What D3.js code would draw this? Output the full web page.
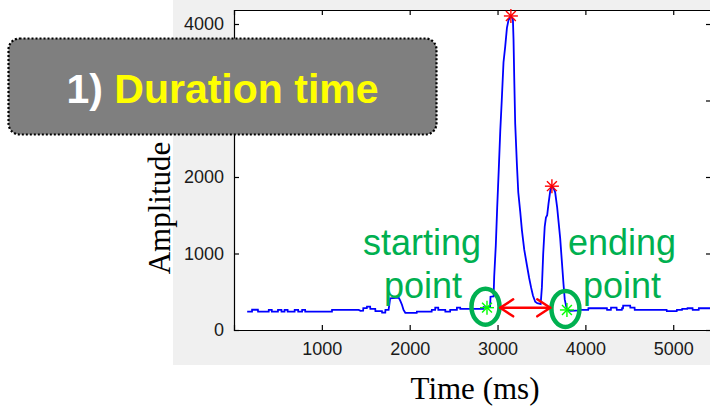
<!DOCTYPE html>
<html>
<head>
<meta charset="utf-8">
<script src="https://cdn.jsdelivr.net/npm/d3@7"></script>
<style>
html,body{margin:0;padding:0;background:#fff;}
svg{display:block;}
</style>
</head>
<body>
<svg id="chart" width="710" height="411"></svg>
<script>
// ---- data ----
const timeMs = [150,205,206,272,274,395,396,430,431,500,501,540,541,575,576,610,611,690,691,730,731,775,776,810,811,1115,1116,1420,1440,1470,1472,1512,1514,1550,1552,1608,1610,1684,1686,1722,1724,1760,1778,1875,1890,1912,1930,1950,2080,2082,2250,2252,2290,2291,2325,2326,2405,2406,2460,2461,2537,2538,2575,2576,2840,2842,2880,2915,2920,2955,2962,2980,2996,3014,3031,3048,3068,3087,3107,3125,3152,3175,3182,3190,3201,3221,3236,3258,3278,3304,3334,3360,3383,3403,3429,3452,3474,3491,3505,3520,3537,3551,3565,3580,3600,3619,3639,3656,3679,3696,3713,3732,3751,3765,3790,3830,3940,3942,4032,4035,4245,4247,4290,4292,4355,4358,4415,4418,4428,4430,4510,4512,4560,4562,4925,4927,5040,5042,5100,5102,5160,5162,5220,5222,5290,5292,5430];
const amplitude = [240,240,265,265,240,240,262,262,240,240,262,262,240,240,262,262,240,240,262,262,240,240,262,262,240,240,262,262,250,252,285,285,305,305,275,275,248,248,226,226,262,262,415,422,390,330,262,225,225,240,240,262,262,292,292,262,262,240,240,262,262,292,292,275,275,300,290,300,435,440,700,1100,1600,2100,2600,3000,3500,3700,3950,4050,4105,4060,3800,3300,2700,2150,1800,1550,1300,1050,850,680,550,450,370,350,345,340,560,1000,1350,1470,1500,1650,1820,1880,1850,1800,1600,1400,1200,900,600,400,265,250,255,262,262,284,284,262,262,292,292,262,262,284,284,318,318,292,292,262,262,248,248,262,262,275,275,284,284,262,262,284,284];
const peakTimes = [3152, 3619];
const peakAmps = [4105, 1880];
const boundTimes = [2880, 3790];
const boundAmps = [292, 262];
const arrowTimes = [3030, 3600];
const arrowAmp = 290;
const xTicks = [1000, 2000, 3000, 4000, 5000];
const yTicks = [0, 1000, 2000, 3000, 4000];
const yTickLabels = ["0", "1000", "2000", "", "4000"]; // 3000 is hidden under the title box
const xDomain = [0, 5430];
const yDomain = [0, 4183];

// ---- layout ----
const svg = d3.select("#chart");
const L = 234, R = 711, T = 10, B = 330;
const x = d3.scaleLinear().domain(xDomain).range([L, R]);
const y = d3.scaleLinear().domain(yDomain).range([B, T]);

// figure background
svg.append("rect").attr("x", 173).attr("y", 0).attr("width", 537).attr("height", 365).attr("fill", "#f0f0f0");
// axes background
svg.append("rect").attr("x", L).attr("y", T).attr("width", R - L).attr("height", B - T).attr("fill", "#fff");

// data line
const line = d3.line().x((d, i) => x(timeMs[i])).y((d, i) => y(amplitude[i]));
svg.append("path").datum(amplitude).attr("d", line)
  .attr("fill", "none").attr("stroke", "#0000ff").attr("stroke-width", 1.8).attr("stroke-linejoin", "miter");

// axes with inward ticks
const tickFont = "Liberation Sans, Arial, sans-serif";
const axB = svg.append("g").attr("transform", `translate(0,${B})`)
  .call(d3.axisBottom(x).tickValues(xTicks).tickSize(-5).tickPadding(12).tickFormat(d3.format("d")));
const axT = svg.append("g").attr("transform", `translate(0,${T})`)
  .call(d3.axisTop(x).tickValues(xTicks).tickSize(-5).tickFormat(""));
const axL = svg.append("g").attr("transform", `translate(${L},0)`)
  .call(d3.axisLeft(y).tickValues(yTicks).tickSize(-5).tickPadding(10).tickFormat((d, i) => yTickLabels[i]));
const axR = svg.append("g").attr("transform", `translate(${R},0)`)
  .call(d3.axisRight(y).tickValues(yTicks).tickSize(-5).tickFormat(""));
[axB, axT, axL, axR].forEach(a => {
  a.select(".domain").attr("stroke", "#000").attr("stroke-width", 1.2);
  a.selectAll(".tick line").attr("stroke", "#000").attr("stroke-width", 1.2);
  a.selectAll("text").attr("font-family", tickFont).attr("font-size", 18).attr("fill", "#1a1a1a");
});

// axis labels
svg.append("text").attr("x", 475).attr("y", 399).attr("text-anchor", "middle")
  .attr("font-family", "Liberation Serif, Times New Roman, serif").attr("font-size", 31).attr("fill", "#000")
  .text("Time (ms)");
svg.append("text").attr("transform", "translate(170,208) rotate(-90)").attr("text-anchor", "middle")
  .attr("font-family", "Liberation Serif, Times New Roman, serif").attr("font-size", 31).attr("fill", "#000")
  .text("Amplitude");

// asterisk marker
function asterisk(cx, cy, r, color) {
  const g = svg.append("g").attr("stroke", color).attr("stroke-width", 1.4);
  const d = r * 0.7071;
  g.append("line").attr("x1", cx - r).attr("x2", cx + r).attr("y1", cy).attr("y2", cy);
  g.append("line").attr("x1", cx).attr("x2", cx).attr("y1", cy - r).attr("y2", cy + r);
  g.append("line").attr("x1", cx - d).attr("x2", cx + d).attr("y1", cy - d).attr("y2", cy + d);
  g.append("line").attr("x1", cx - d).attr("x2", cx + d).attr("y1", cy + d).attr("y2", cy - d);
}
peakTimes.forEach((t, i) => asterisk(x(t), y(peakAmps[i]), 7, "#ff0000"));
boundTimes.forEach((t, i) => asterisk(x(t), y(boundAmps[i]), 7, "#00ff00"));

// green ellipses
const green = "#00b050";
boundTimes.forEach((t, i) => {
  svg.append("ellipse").attr("cx", x(t) - 1.5).attr("cy", y(boundAmps[i]) - 1).attr("rx", 14).attr("ry", 18)
    .attr("fill", "none").attr("stroke", green).attr("stroke-width", 4.5);
});

// red double arrow
const ax1 = x(arrowTimes[0]), ax2 = x(arrowTimes[1]), ay = y(arrowAmp);
const ag = svg.append("g").attr("stroke", "#ff0000").attr("stroke-width", 2.5).attr("fill", "none")
  .attr("stroke-linecap", "round").attr("stroke-linejoin", "round");
ag.append("line").attr("x1", ax1).attr("x2", ax2).attr("y1", ay).attr("y2", ay);
ag.append("path").attr("d", `M${ax1 + 13},${ay - 8.5} L${ax1},${ay} L${ax1 + 13},${ay + 8.5}`);
ag.append("path").attr("d", `M${ax2 - 13},${ay - 8.5} L${ax2},${ay} L${ax2 - 13},${ay + 8.5}`);

// green labels
const lf = "Liberation Sans, Arial, sans-serif";
[["starting", 422, 255], ["point", 423, 298], ["ending", 622, 255], ["point", 622, 298]].forEach(([s, tx, ty]) => {
  svg.append("text").attr("x", tx).attr("y", ty).attr("text-anchor", "middle")
    .attr("font-family", lf).attr("font-size", 36).attr("fill", green).text(s);
});

// title box
svg.append("rect").attr("x", 8.5).attr("y", 38.5).attr("width", 428).attr("height", 96).attr("rx", 11).attr("ry", 11)
  .attr("fill", "#7f7f7f").attr("stroke", "#000").attr("stroke-width", 2.2).attr("stroke-dasharray", "2,2");
const tt = svg.append("text").attr("x", 222.5).attr("y", 103).attr("text-anchor", "middle")
  .attr("font-family", lf).attr("font-size", 41).attr("font-weight", "bold");
tt.append("tspan").attr("fill", "#ffffff").text("1) ");
tt.append("tspan").attr("fill", "#ffff00").text("Duration time");
</script>
</body>
</html>
